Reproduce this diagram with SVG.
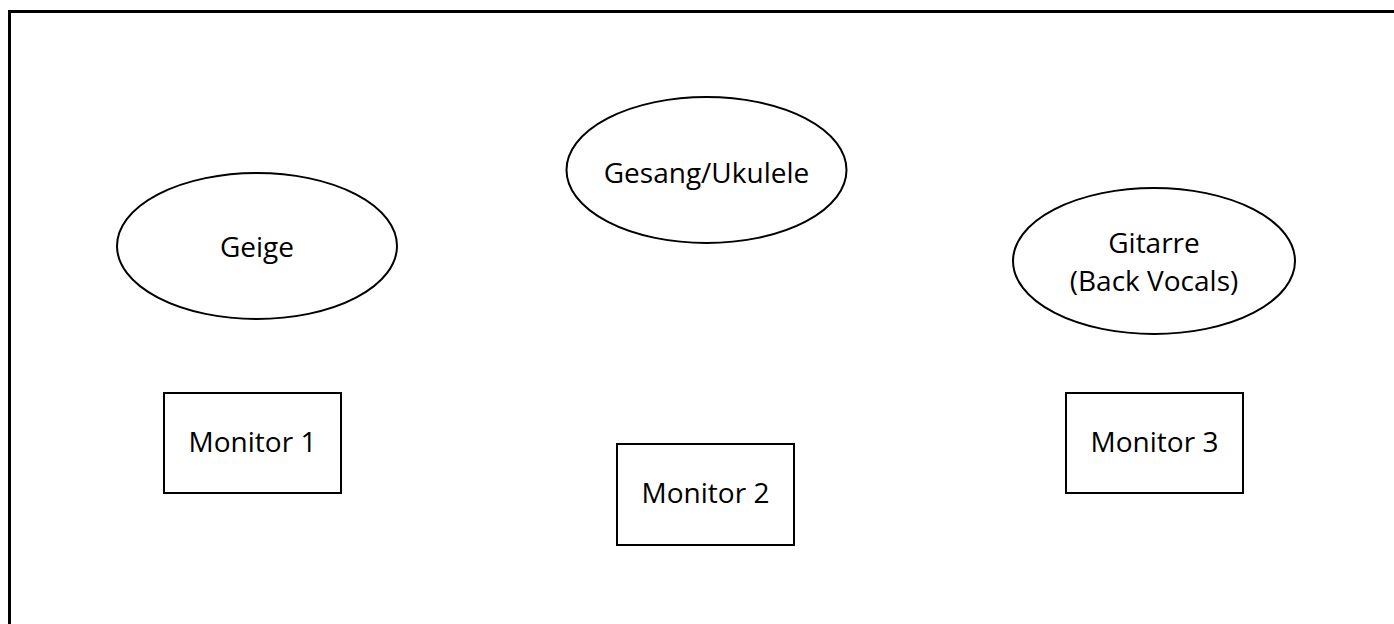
<svg xmlns="http://www.w3.org/2000/svg" width="1394" height="624" viewBox="0 0 1394 624">
<style>
.shape{fill:#fff;stroke:#000;stroke-width:2}
.frame{fill:none;stroke:#000;stroke-width:3}
text{font-family:"Open Sans","Noto Sans","Liberation Sans",sans-serif;font-size:28px;fill:#000;text-anchor:middle}
</style>
<rect width="1394" height="624" fill="#fff"/>
<g id="frame">
<path class="frame" d="M9.5 624 V11.5 H1394"/>
</g>
<g id="geige">
<ellipse class="shape" cx="257" cy="246" rx="140" ry="73"/>
<text x="257" y="257">Geige</text>
</g>
<g id="gesang">
<ellipse class="shape" cx="706.5" cy="170" rx="140" ry="73"/>
<text x="706.5" y="183">Gesang/Ukulele</text>
</g>
<g id="gitarre">
<ellipse class="shape" cx="1154" cy="261" rx="141" ry="73"/>
<text x="1154" y="253">Gitarre</text>
<text x="1154" y="291">(Back Vocals)</text>
</g>
<g id="monitor1">
<rect class="shape" x="164" y="393" width="177" height="100"/>
<text x="252.5" y="452">Monitor 1</text>
</g>
<g id="monitor2">
<rect class="shape" x="617" y="444" width="177" height="101"/>
<text x="705.5" y="503">Monitor 2</text>
</g>
<g id="monitor3">
<rect class="shape" x="1066" y="393" width="177" height="100"/>
<text x="1154.5" y="452">Monitor 3</text>
</g>
<g id="connectors"></g>
</svg>
